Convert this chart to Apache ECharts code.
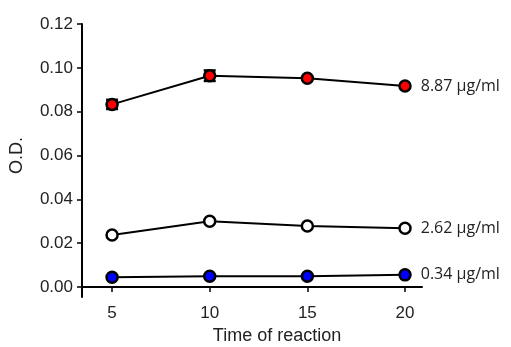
<!DOCTYPE html>
<html>
<head>
<meta charset="utf-8">
<script src="https://cdn.jsdelivr.net/npm/echarts@6/dist/echarts.min.js"></script>
<style>
  html, body { margin: 0; padding: 0; background: #fff; }
  #chart { width: 511px; height: 347px; }
</style>
</head>
<body>
<div id="chart"></div>
<script>
// values
var times = [5, 10, 15, 20];
var high = [0.0833, 0.0964, 0.0952, 0.0917];     // 8.87 µg/ml
var highErr = [0.0021, 0.0024, 0, 0];
var mid = [0.0237, 0.0300, 0.0278, 0.0268];      // 2.62 µg/ml
var low = [0.0044, 0.0049, 0.0049, 0.0055];      // 0.34 µg/ml
var seriesNames = ['8.87 µg/ml', '2.62 µg/ml', '0.34 µg/ml'];
var yTicks = [0, 0.02, 0.04, 0.06, 0.08, 0.10, 0.12];

function pairs(arr) {
    return arr.map(function (v, i) { return [times[i], v]; });
}

function lineSeries(name, values, fill) {
    return {
        name: name,
        type: 'line',
        data: pairs(values),
        symbol: 'circle',
        symbolSize: 11,
        lineStyle: { color: '#000', width: 2 },
        itemStyle: { color: fill, borderColor: '#000', borderWidth: 2.5 },
        z: 3,
        label: {
            show: true,
            position: 'right',
            distance: 9,
            fontFamily: 'Open Sans',
            fontSize: 16,
            color: '#222',
            formatter: function (p) {
                return p.dataIndex === values.length - 1 ? name : '';
            }
        },
        emphasis: { disabled: true }
    };
}

var errData = high.map(function (v, i) { return [times[i], v - highErr[i], v + highErr[i]]; })
    .filter(function (d) { return d[2] > d[1]; });

var oChart = echarts.init(document.getElementById('chart'));
oChart.setOption({
    animation: false,
    grid: { left: 82, right: 89, top: 24, bottom: 50, outerBoundsMode: 'none', containLabel: false },
    xAxis: {
        type: 'value',
        min: 3.46,
        max: 20.87,
        name: 'Time of reaction',
        nameLocation: 'middle',
        nameGap: 28,
        nameTextStyle: { fontFamily: 'Liberation Sans', fontSize: 18, color: '#222', padding: [0, 0, 0, 50] },
        axisLine: { lineStyle: { color: '#000', width: 2 } },
        axisTick: { show: true, length: 5, lineStyle: { color: '#000', width: 1.5 }, customValues: times },
        axisLabel: { fontFamily: 'Liberation Sans', fontSize: 17, color: '#222', margin: 8, customValues: times },
        splitLine: { show: false }
    },
    yAxis: {
        type: 'value',
        min: -0.0046,
        max: 0.12,
        name: 'O.D.',
        nameLocation: 'middle',
        nameGap: 56,
        nameRotate: 90,
        nameTextStyle: { fontFamily: 'Liberation Sans', fontSize: 18, color: '#222', padding: [0, 0, 0, 10] },
        axisLine: { show: true, lineStyle: { color: '#000', width: 2 } },
        axisTick: { show: true, length: 5, lineStyle: { color: '#000', width: 1.5 }, customValues: yTicks },
        axisLabel: {
            fontFamily: 'Liberation Sans', fontSize: 17, color: '#222', margin: 9,
            customValues: yTicks,
            formatter: function (v) { return v.toFixed(2); }
        },
        splitLine: { show: false }
    },
    series: [
        {
            type: 'custom',
            data: errData,
            z: 2,
            renderItem: function (params, api) {
                var top = api.coord([api.value(0), api.value(2)]);
                var bot = api.coord([api.value(0), api.value(1)]);
                var w = 6;
                return {
                    type: 'group',
                    children: [
                        { type: 'line', shape: { x1: top[0], y1: top[1], x2: bot[0], y2: bot[1] }, style: { stroke: '#000', lineWidth: 2 } },
                        { type: 'line', shape: { x1: top[0] - w, y1: top[1], x2: top[0] + w, y2: top[1] }, style: { stroke: '#000', lineWidth: 2.5 } },
                        { type: 'line', shape: { x1: bot[0] - w, y1: bot[1], x2: bot[0] + w, y2: bot[1] }, style: { stroke: '#000', lineWidth: 2.5 } }
                    ]
                };
            }
        },
        lineSeries(seriesNames[0], high, '#ff0000'),
        lineSeries(seriesNames[1], mid, '#ffffff'),
        lineSeries(seriesNames[2], low, '#0000ff')
    ]
});
</script>
</body>
</html>
